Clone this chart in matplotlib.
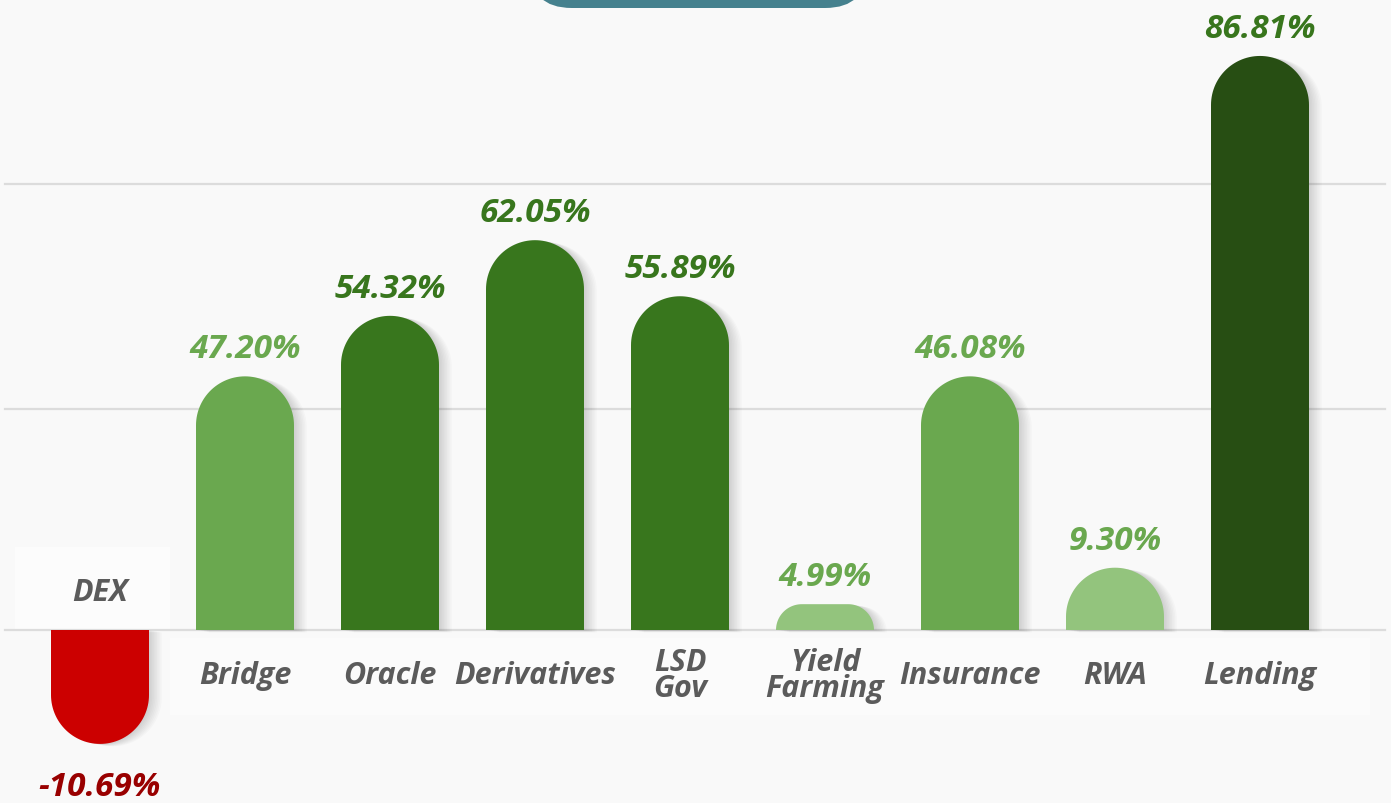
import numpy as np
import matplotlib
matplotlib.use("Agg")
import matplotlib.pyplot as plt
from matplotlib.patches import Polygon, FancyBboxPatch, Rectangle

# Data
categories = ["DEX", "Bridge", "Oracle", "Derivatives", "LSD\nGov",
              "Yield\nFarming", "Insurance", "RWA", "Lending"]
value_labels = [-10.69, 47.20, 54.32, 62.05, 55.89, 4.99, 46.08, 9.30, 86.81]
# bar heights as drawn (the bars are not linear in the printed values)
bar_heights = [-12.8, 28.5, 35.3, 43.8, 37.5, 2.9, 28.5, 7.0, 64.5]

BG = "#f9f9f9"
PX_X = 145.0   # pixels per category step
PX_Y = 8.9     # pixels per y unit


def bar_color(v):
    if v < 0:
        return "#cc0000"
    if v < 10:
        return "#93c47d"
    if v < 50:
        return "#6aa84f"
    if v < 80:
        return "#38761d"
    return "#274e13"


def label_color(v):
    if v < 0:
        return "#990000"
    if v < 50:
        return "#6aa84f"
    return "#38761d"


def pill(x, h, w=98 / PX_X, r_px=49):
    # rectangle with the free end rounded
    hp = abs(h) * PX_Y
    r = min(r_px, hp)
    rx, ry = r / PX_X, r / PX_Y
    s = 1 if h >= 0 else -1
    t1 = np.linspace(0, np.pi / 2, 30)
    t2 = np.linspace(np.pi / 2, np.pi, 30)
    right = np.c_[x + w / 2 - rx + rx * np.cos(t1), s * (abs(h) - ry + ry * np.sin(t1))]
    left = np.c_[x - w / 2 + rx + rx * np.cos(t2), s * (abs(h) - ry + ry * np.sin(t2))]
    pts = np.vstack([[x + w / 2, 0], right, left, [x - w / 2, 0]])
    return pts


fig = plt.figure(figsize=(13.91, 8.04), dpi=100)
fig.patch.set_facecolor(BG)
ax = fig.add_axes([0, 0, 1, 1])
ax.set_facecolor(BG)
ax.set_xlim(-100 / PX_X, 1291 / PX_X)
ax.set_ylim(-173 / PX_Y, 631 / PX_Y)
ax.axis("off")

# faint label panels
ax.add_patch(Rectangle(((15 - 100) / PX_X, 0), 155 / PX_X, 83 / PX_Y,
                       facecolor="#fcfcfc", edgecolor="none", zorder=0))
ax.add_patch(Rectangle(((170 - 100) / PX_X, -85 / PX_Y), 1200 / PX_X, 77 / PX_Y,
                       facecolor="#fbfbfb", edgecolor="none", zorder=0))

# grid lines
gx0, gx1 = (5 - 100) / PX_X, (1385 - 100) / PX_X
for gy in [0, 221 / PX_Y, 446 / PX_Y]:
    ax.plot([gx0, gx1], [gy, gy], color="#dcdcdc", lw=1.6, zorder=1)

font = ["Open Sans", "DejaVu Sans"]

for i, (cat, v, h) in enumerate(zip(categories, value_labels, bar_heights)):
    # soft shadow to the right
    for k in range(1, 9):
        sp = pill(i, h)
        sp[:, 0] += k * 1.6 / PX_X
        sp[:, 1] -= k * 0.3 / PX_Y
        ax.add_patch(Polygon(sp, closed=True, facecolor="#000000",
                             edgecolor="none", alpha=0.018, zorder=2))
    ax.add_patch(Polygon(pill(i, h), closed=True, facecolor=bar_color(v),
                         edgecolor="none", zorder=3))

    txt = f"{v:.2f}%"
    if h >= 0:
        ax.text(i, h + 19 / PX_Y, txt, ha="center", va="baseline",
                fontsize=24, fontweight="bold", style="italic",
                color=label_color(v), family=font, zorder=5)
        ax.text(i, -45 / PX_Y, cat, ha="center", va="center",
                fontsize=22, fontweight="bold", style="italic",
                color="#5b5b5b", family=font, linespacing=0.82, zorder=5)
    else:
        ax.text(i, h - 43 / PX_Y, txt, ha="center", va="center",
                fontsize=24, fontweight="bold", style="italic",
                color=label_color(v), family=font, zorder=5)
        ax.text(i, 38 / PX_Y, cat, ha="center", va="center",
                fontsize=22, fontweight="bold", style="italic",
                color="#5b5b5b", family=font, zorder=5)

# title pill cut off at the top
fig.patches.append(FancyBboxPatch((530 / 1391, 1 - 9 / 804), 337 / 1391, 0.1,
                                  boxstyle="round,pad=0,rounding_size=0.03",
                                  transform=fig.transFigure, facecolor="#45818e",
                                  edgecolor="none", mutation_aspect=1391 / 804))

fig.savefig("out.png", dpi=100, facecolor=BG)
